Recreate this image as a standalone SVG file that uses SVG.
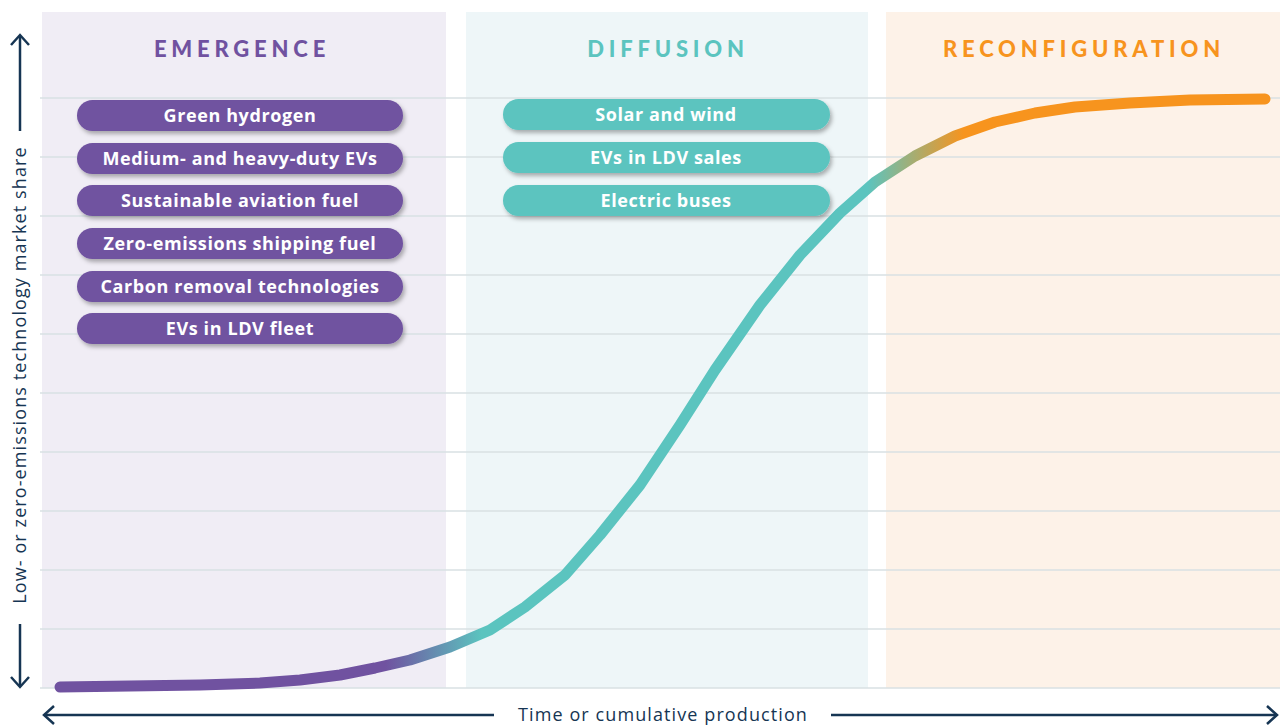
<svg xmlns="http://www.w3.org/2000/svg" width="1280" height="726" viewBox="0 0 1280 726">
<defs>
<style>
.grid{stroke:#d9e0e3;stroke-width:1.5}
.hdr{font-family:Lato,"Open Sans",sans-serif;font-weight:900;font-size:22px;letter-spacing:4.8px;text-anchor:middle}
.pill text{font-family:"Open Sans",Lato,sans-serif;font-weight:700;font-size:18px;letter-spacing:0.6px;fill:#fff;text-anchor:middle}
.pp{fill:#7052a0}
.tp{fill:#5bc4bf}
.ax{stroke:#163553;stroke-width:2.5;fill:none}
.axt{font-family:"Open Sans","Noto Sans",sans-serif;font-size:18px;letter-spacing:1.1px;fill:#163553}
</style>
<filter id="sh" x="-10%" y="-30%" width="120%" height="170%">
<feDropShadow dx="2" dy="3" stdDeviation="2" flood-color="#000" flood-opacity="0.3"/>
</filter>
<linearGradient id="cg" gradientUnits="userSpaceOnUse" x1="60" y1="0" x2="1265" y2="0">
<stop offset="0" stop-color="#7052a0"/>
<stop offset="0.27" stop-color="#7052a0"/>
<stop offset="0.35" stop-color="#5bc4bf"/>
<stop offset="0.67" stop-color="#5bc4bf"/>
<stop offset="0.75" stop-color="#f7941e"/>
<stop offset="1" stop-color="#f7941e"/>
</linearGradient>
</defs>
<rect width="1280" height="726" fill="#fff"/>
<g id="panels">
<rect x="42" y="12" width="404" height="676" fill="#f0edf5"/>
<rect x="466" y="12" width="402" height="676" fill="#eef6f8"/>
<rect x="886" y="12" width="394" height="676" fill="#fdf2e8"/>
</g>
<g id="grid">
<line class="grid" x1="40" y1="98" x2="1280" y2="98"/>
<line class="grid" x1="40" y1="157" x2="1280" y2="157"/>
<line class="grid" x1="40" y1="216" x2="1280" y2="216"/>
<line class="grid" x1="40" y1="275" x2="1280" y2="275"/>
<line class="grid" x1="40" y1="334" x2="1280" y2="334"/>
<line class="grid" x1="40" y1="393" x2="1280" y2="393"/>
<line class="grid" x1="40" y1="452" x2="1280" y2="452"/>
<line class="grid" x1="40" y1="511" x2="1280" y2="511"/>
<line class="grid" x1="40" y1="570" x2="1280" y2="570"/>
<line class="grid" x1="40" y1="629" x2="1280" y2="629"/>
<line class="grid" x1="40" y1="688" x2="1280" y2="688"/>
</g>
<g id="headers">
<text class="hdr" x="242" y="57" fill="#7052a0">EMERGENCE</text>
<text class="hdr" x="668" y="57" fill="#5bc4bf">DIFFUSION</text>
<text class="hdr" x="1084" y="57" fill="#f7941e">RECONFIGURATION</text>
</g>
<g id="connectors">
<polyline fill="none" stroke="url(#cg)" stroke-width="11" stroke-linecap="round" stroke-linejoin="round" points="60,687 130,686 200,685 260,683 300,680 340,675 375,668 410,660 450,647 490,630 525,607 565,575 600,535 640,485 680,425 715,370 760,305 800,255 840,213 875,182 915,156 955,136 995,122 1035,113 1075,107 1130,103 1190,100 1265,99"/>
</g>
<g id="pill-green-hydrogen" class="pill"><rect class="pp" filter="url(#sh)" x="77" y="100" width="326" height="31" rx="15.5"/><text x="240" y="122">Green hydrogen</text></g>
<g id="pill-medium-heavy" class="pill"><rect class="pp" filter="url(#sh)" x="77" y="143" width="326" height="31" rx="15.5"/><text x="240" y="165">Medium- and heavy-duty EVs</text></g>
<g id="pill-saf" class="pill"><rect class="pp" filter="url(#sh)" x="77" y="185" width="326" height="31" rx="15.5"/><text x="240" y="207">Sustainable aviation fuel</text></g>
<g id="pill-shipping" class="pill"><rect class="pp" filter="url(#sh)" x="77" y="228" width="326" height="31" rx="15.5"/><text x="240" y="250">Zero-emissions shipping fuel</text></g>
<g id="pill-carbon" class="pill"><rect class="pp" filter="url(#sh)" x="77" y="271" width="326" height="31" rx="15.5"/><text x="240" y="293">Carbon removal technologies</text></g>
<g id="pill-ldv-fleet" class="pill"><rect class="pp" filter="url(#sh)" x="77" y="313" width="326" height="31" rx="15.5"/><text x="240" y="335">EVs in LDV fleet</text></g>
<g id="pill-solar" class="pill"><rect class="tp" filter="url(#sh)" x="503" y="99" width="327" height="31" rx="15.5"/><text x="666" y="121">Solar and wind</text></g>
<g id="pill-ldv-sales" class="pill"><rect class="tp" filter="url(#sh)" x="503" y="142" width="327" height="31" rx="15.5"/><text x="666" y="164">EVs in LDV sales</text></g>
<g id="pill-buses" class="pill"><rect class="tp" filter="url(#sh)" x="503" y="185" width="327" height="31" rx="15.5"/><text x="666" y="207">Electric buses</text></g>
<g id="y-axis">
<line class="ax" x1="20" y1="36" x2="20" y2="131"/>
<polyline class="ax" points="11,45 20,35 29,45"/>
<line class="ax" x1="20" y1="624" x2="20" y2="686"/>
<polyline class="ax" points="11,677 20,687 29,677"/>
<text class="axt" transform="translate(26,375) rotate(-90)" text-anchor="middle">Low- or zero-emissions technology market share</text>
</g>
<g id="x-axis">
<line class="ax" x1="44" y1="715" x2="494" y2="715"/>
<polyline class="ax" points="54,706 44,715 54,724"/>
<line class="ax" x1="831" y1="715" x2="1277" y2="715"/>
<polyline class="ax" points="1267,706 1277,715 1267,724"/>
<text class="axt" x="663" y="721" text-anchor="middle">Time or cumulative production</text>
</g>
</svg>
